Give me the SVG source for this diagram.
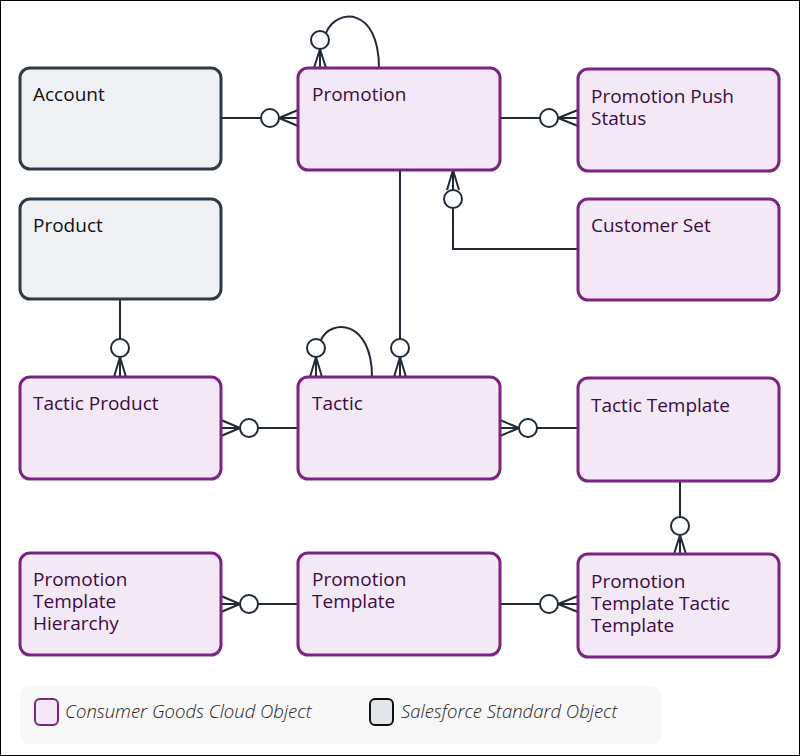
<svg xmlns="http://www.w3.org/2000/svg" width="800" height="756" viewBox="0 0 800 756">
<style>
.n rect{stroke-width:3}
.c rect{fill:#f3e8f5;stroke:#7b2382}
.s rect{fill:#eef0f3;stroke:#2e3a46}
.n text{font-family:"Open Sans",sans-serif;font-size:19px;font-weight:500}
.c text{fill:#3d0b45}
.s text{fill:#111}
#links path,#links line{fill:none;stroke:#1f2a35;stroke-width:2}
#links circle{fill:#fff;stroke:#1f2a35;stroke-width:2}
.lg{font-family:"Open Sans",sans-serif;font-size:18.5px;font-style:italic;font-weight:300;fill:#222}
</style>
<rect x="0.5" y="0.5" width="799" height="755" fill="#fff" stroke="#000"/>
<g id="links">
<line x1="221" y1="118" x2="261" y2="118"/><circle cx="270" cy="118" r="9"/><path d="M279 118L298 110M279 118L298 118M279 118L298 126"/>
<line x1="500" y1="118" x2="540" y2="118"/><circle cx="549" cy="118" r="9"/><path d="M558 118L578 110M558 118L578 118M558 118L578 126"/>
<circle cx="320" cy="40" r="9"/><path d="M320 49L314 68M320 49L320 68M320 49L326 68"/><path d="M326 33C336 8 379 6 379 68"/>
<path d="M453 170L447 190M453 170L453 190M453 170L459 190"/><circle cx="453" cy="199" r="9"/><path d="M453 208V249H578"/>
<line x1="400" y1="170" x2="400" y2="339"/><circle cx="400" cy="348" r="9"/><path d="M400 357L394 377M400 357L400 377M400 357L406 377"/>
<circle cx="316" cy="348" r="9"/><path d="M316 357L310 377M316 357L316 377M316 357L322 377"/><path d="M321 340C331 318 372 320 372 377"/>
<line x1="120" y1="299" x2="120" y2="339"/><circle cx="120" cy="348" r="9"/><path d="M120 357L114 377M120 357L120 377M120 357L126 377"/>
<line x1="298" y1="428" x2="258" y2="428"/><circle cx="249" cy="428" r="9"/><path d="M240 428L221 420M240 428L221 428M240 428L221 436"/>
<line x1="578" y1="428" x2="537" y2="428"/><circle cx="528" cy="428" r="9"/><path d="M519 428L500 420M519 428L500 428M519 428L500 436"/>
<line x1="680" y1="481" x2="680" y2="517"/><circle cx="680" cy="526" r="9"/><path d="M680 535L674 554M680 535L680 554M680 535L686 554"/>
<line x1="298" y1="604" x2="258" y2="604"/><circle cx="249" cy="604" r="9"/><path d="M240 604L221 596M240 604L221 604M240 604L221 612"/>
<line x1="500" y1="604" x2="540" y2="604"/><circle cx="549" cy="604" r="9"/><path d="M558 604L578 596M558 604L578 604M558 604L578 612"/>
</g>
<g id="account" class="n s"><rect x="20" y="68" width="201" height="101" rx="10"/><text x="33" y="101">Account</text></g>
<g id="promotion" class="n c"><rect x="298" y="68" width="202" height="102" rx="10"/><text x="312" y="101">Promotion</text></g>
<g id="pps" class="n c"><rect x="578" y="69" width="201" height="102" rx="10"/><text x="591" y="103">Promotion Push</text><text x="591" y="125">Status</text></g>
<g id="product" class="n s"><rect x="20" y="199" width="201" height="100" rx="10"/><text x="33" y="232">Product</text></g>
<g id="customerset" class="n c"><rect x="578" y="199" width="201" height="101" rx="10"/><text x="591" y="232">Customer Set</text></g>
<g id="tacticproduct" class="n c"><rect x="20" y="377" width="201" height="102" rx="10"/><text x="33" y="410">Tactic Product</text></g>
<g id="tactic" class="n c"><rect x="298" y="377" width="202" height="102" rx="10"/><text x="312" y="410">Tactic</text></g>
<g id="tactictemplate" class="n c"><rect x="578" y="378" width="201" height="103" rx="10"/><text x="591" y="412">Tactic Template</text></g>
<g id="pth" class="n c"><rect x="20" y="553" width="201" height="102" rx="10"/><text x="33" y="586">Promotion</text><text x="33" y="608">Template</text><text x="33" y="630">Hierarchy</text></g>
<g id="pt" class="n c"><rect x="298" y="553" width="202" height="102" rx="10"/><text x="312" y="586">Promotion</text><text x="312" y="608">Template</text></g>
<g id="pttt" class="n c"><rect x="578" y="554" width="201" height="103" rx="10"/><text x="591" y="588">Promotion</text><text x="591" y="610">Template Tactic</text><text x="591" y="632">Template</text></g>
<g id="legend">
<rect x="20" y="686" width="642" height="58" rx="10" fill="#f8f8f8"/>
<rect x="35" y="699" width="23" height="26" rx="5" fill="#f3e8f5" stroke="#7b2382" stroke-width="2"/>
<text class="lg" x="65" y="718">Consumer Goods Cloud Object</text>
<rect x="370" y="699" width="23" height="26" rx="5" fill="#e2e5e9" stroke="#111" stroke-width="2"/>
<text class="lg" x="401" y="718">Salesforce Standard Object</text>
</g>
</svg>
